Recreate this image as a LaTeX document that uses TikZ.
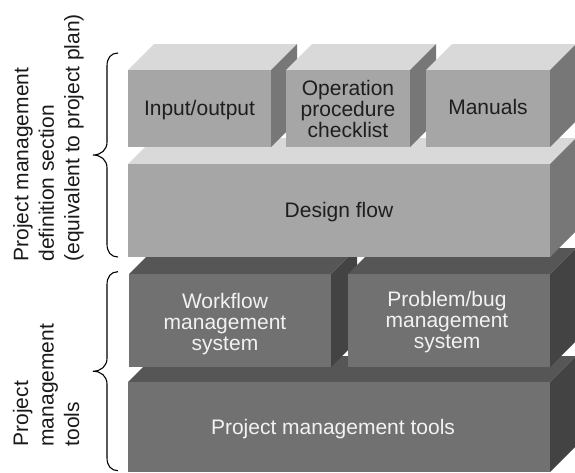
\documentclass[tikz,border=0pt]{standalone}
\usepackage{fontspec}
\setmainfont{Liberation Sans}
\definecolor{ltfront}{HTML}{A6A6A6}
\definecolor{lttop}{HTML}{D9D9D9}
\definecolor{ltside}{HTML}{777777}
\definecolor{dkfront}{HTML}{717171}
\definecolor{dktop}{HTML}{565656}
\definecolor{dkside}{HTML}{434343}
\definecolor{ltxt}{HTML}{1E1E1E}
\definecolor{dktxt}{HTML}{F2F2F2}
\definecolor{lbl}{HTML}{1A1A1A}
\tikzset{
  boxtext/.style={font=\fontsize{21}{21}\selectfont, align=center, inner sep=0pt},
  lighttext/.style={boxtext, text=ltxt},
  darktext/.style={boxtext, text=dktxt},
  sidelabel/.style={font=\fontsize{21}{25.5}\selectfont, align=left, rotate=90, inner sep=0pt, anchor=west, text=lbl},
  bracestyle/.style={draw=black, line width=1.1pt}
}
% #1 x1, #2 y1 (front top), #3 x2, #4 y2 (front bottom), #5 front, #6 top, #7 side
\newcommand\cubeshape[7]{%
  \fill[#6] (#1,#2) -- ({#1+26},{#2-26}) -- ({#3+26},{#2-26}) -- (#3,#2) -- cycle;
  \fill[#7] (#3,#2) -- ({#3+26},{#2-26}) -- ({#3+26},{#4-26}) -- (#3,#4) -- cycle;
  \fill[#5] (#1,#2) rectangle (#3,#4);
}
% brace: #1 x of ends, #2 y top, #3 y bottom
\newcommand\leftbrace[3]{%
  \draw[bracestyle] (#1,#2) .. controls ({#1-7},#2) and ({#1-11},{#2+5}) .. ({#1-11},{#2+13})
    -- ({#1-11},{(#2+#3)/2-13}) .. controls ({#1-11},{(#2+#3)/2-5}) and ({#1-17},{(#2+#3)/2}) .. ({#1-25},{(#2+#3)/2})
    .. controls ({#1-17},{(#2+#3)/2}) and ({#1-11},{(#2+#3)/2+5}) .. ({#1-11},{(#2+#3)/2+13})
    -- ({#1-11},{#3-13}) .. controls ({#1-11},{#3-5}) and ({#1-7},#3) .. (#1,#3);
}
\begin{document}
\begin{tikzpicture}[x=1pt,y=-1pt]
\clip (0,0) rectangle (575,472);
\fill[white] (0,0) rectangle (575,472);
% lower (tools) layer
\cubeshape{128}{382}{550}{472}{dkfront}{dktop}{dkside}
\cubeshape{129}{274}{331}{367}{dkfront}{dktop}{dkside}
\cubeshape{348}{274}{550}{367}{dkfront}{dktop}{dkside}
% upper (definition) layer
\cubeshape{128}{164}{550}{257}{ltfront}{lttop}{ltside}
\cubeshape{128}{70}{271}{147}{ltfront}{lttop}{ltside}
\cubeshape{286}{70}{410}{147}{ltfront}{lttop}{ltside}
\cubeshape{426}{70}{550}{147}{ltfront}{lttop}{ltside}
% box texts
\node[lighttext] (io) at (199.5,110.5) {Input/output};
\node[lighttext] (opc) at (348,109) {Operation\\procedure\\checklist};
\node[lighttext] (man) at (488,107.4) {Manuals};
\node[lighttext] (df) at (339,211.9) {Design flow};
\node[darktext] (wf) at (225,323.9) {Workflow\\management\\system};
\node[darktext] (pb) at (447,322.2) {Problem/bug\\management\\system};
\node[darktext] (pmt) at (333,429.5) {Project management tools};
% braces
\leftbrace{118}{53}{257}
\leftbrace{118}{271.7}{470.7}
% side labels
\node[sidelabel] (deflbl) at (48.4,261.7) {Project management\\definition section\\(equivalent to project plan)};
\node[sidelabel] (toollbl) at (46.2,446.7) {Project\\management\\tools};
\end{tikzpicture}
\end{document}
